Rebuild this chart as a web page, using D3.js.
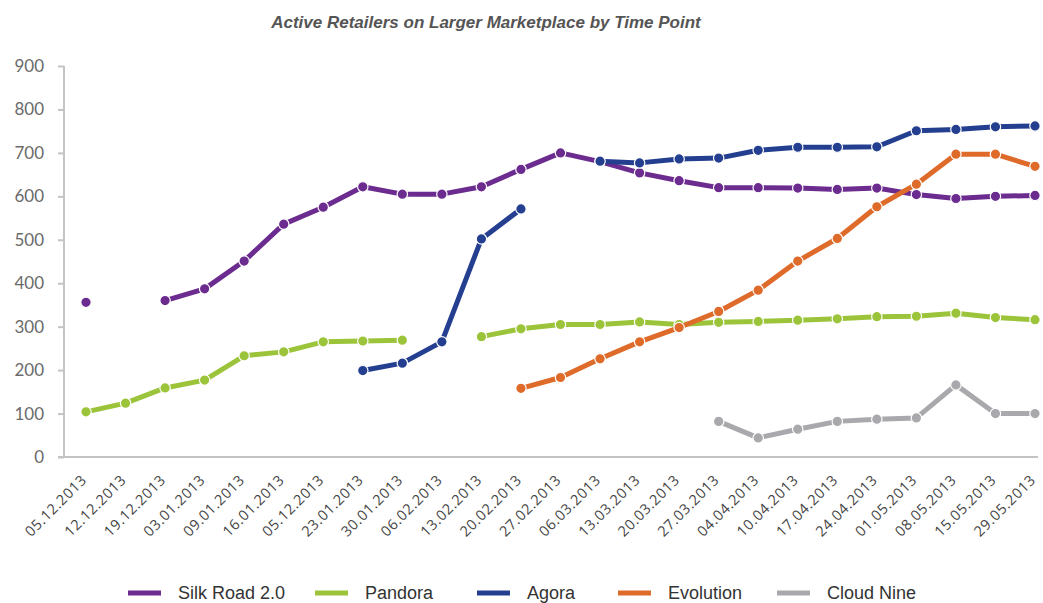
<!DOCTYPE html>
<html>
<head>
<meta charset="utf-8">
<script src="https://cdn.jsdelivr.net/npm/d3@7"></script>
<style>
  html, body { margin: 0; padding: 0; background: #ffffff; }
  svg { display: block; }
</style>
</head>
<body>
<svg id="chart" width="1043" height="603"></svg>
<script>
const title = "Active Retailers on Larger Marketplace by Time Point";
const dates = ["05.12.2013","12.12.2013","19.12.2013","03.01.2013","09.01.2013","16.01.2013","05.12.2013","23.01.2013","30.01.2013","06.02.2013","13.02.2013","20.02.2013","27.02.2013","06.03.2013","13.03.2013","20.03.2013","27.03.2013","04.04.2013","10.04.2013","17.04.2013","24.04.2013","01.05.2013","08.05.2013","15.05.2013","29.05.2013"];
const yTicks = [0,100,200,300,400,500,600,700,800,900];

const silkRoad  = [356,null,360,387,451,536,575,622,605,605,622,662,700,680,654,636,620,620,619,616,619,604,595,600,602];
const pandora   = [104,124,159,177,233,242,265,267,269,null,277,295,305,305,311,305,310,312,315,318,323,324,331,321,316];
const agora     = [null,null,null,null,null,null,null,199,216,265,502,571,null,681,677,686,688,706,713,713,714,751,754,760,762];
const evolution = [null,null,null,null,null,null,null,null,null,null,null,158,183,226,265,298,335,384,451,503,576,628,697,697,669];
const cloudNine = [null,null,null,null,null,null,null,null,null,null,null,null,null,null,null,null,82,44,64,82,87,90,166,100,100];

const seriesNames  = ["Silk Road 2.0","Pandora","Agora","Evolution","Cloud Nine"];
const seriesColors = ["#6b2b8f","#9cc43b","#243f90","#df6b2b","#a9a9ad"];
const seriesValues = [silkRoad, pandora, agora, evolution, cloudNine];

const svg = d3.select("#chart");

const x = d3.scalePoint().domain(d3.range(dates.length)).range([86, 1035]);
const y = d3.scaleLinear().domain([0, 900]).range([457, 66]);

// title
svg.append("text")
  .attr("x", 486).attr("y", 28)
  .attr("text-anchor", "middle")
  .attr("font-family", "'Liberation Sans Narrow', 'Liberation Sans', sans-serif")
  .attr("font-style", "italic").attr("font-weight", "bold")
  .attr("font-size", 17).attr("fill", "#555")
  .text(title);

// y axis
const yAxis = svg.append("g").attr("transform", "translate(64,0)")
  .call(d3.axisLeft(y).tickValues(yTicks).tickSize(6).tickPadding(14).tickFormat(d3.format("d")));
yAxis.select(".domain").attr("stroke", "#c4c4c4").attr("stroke-width", 2)
  .attr("d", `M0,${y(900)}V${y(0)}`);
yAxis.selectAll(".tick line").attr("stroke", "#c4c4c4").attr("stroke-width", 2);
yAxis.selectAll(".tick text")
  .attr("font-family", "Lato, sans-serif").attr("font-size", 17)
  .attr("fill", "#6a6a6a");

// x axis
const xAxis = svg.append("g").attr("transform", `translate(0,${y(0)})`)
  .call(d3.axisBottom(x).tickSize(0).tickFormat(i => dates[i]));
xAxis.select(".domain").attr("stroke", "#c4c4c4").attr("stroke-width", 2)
  .attr("d", "M58,0H1038");
xAxis.selectAll(".tick text")
  .attr("font-family", "'Open Sans', sans-serif").attr("font-size", 14.5)
  .attr("letter-spacing", 0.6)
  .attr("fill", "#444")
  .attr("text-anchor", "end")
  .attr("dy", 0)
  .attr("y", 0)
  .attr("transform", "translate(1,24) rotate(-45)");

// lines
const line = d3.line()
  .defined(d => d != null)
  .x((d, i) => x(i))
  .y(d => y(d));

seriesValues.forEach((vals, s) => {
  const g = svg.append("g");
  g.append("path")
    .attr("d", line(vals))
    .attr("fill", "none")
    .attr("stroke", seriesColors[s])
    .attr("stroke-width", 5)
    .attr("stroke-linejoin", "round");
  g.selectAll("circle")
    .data(vals.map((v, i) => ({v, i})).filter(d => d.v != null))
    .join("circle")
    .attr("cx", d => x(d.i))
    .attr("cy", d => y(d.v))
    .attr("r", 5.2)
    .attr("fill", seriesColors[s])
    .attr("stroke", "#ffffff")
    .attr("stroke-width", 1.2);
});

// legend
const legendX = [128, 315, 477, 618, 777];
const legend = svg.append("g");
seriesNames.forEach((name, s) => {
  legend.append("line")
    .attr("x1", legendX[s]).attr("x2", legendX[s] + 33)
    .attr("y1", 593).attr("y2", 593)
    .attr("stroke", seriesColors[s]).attr("stroke-width", 5);
  legend.append("text")
    .attr("x", legendX[s] + 50).attr("y", 599)
    .attr("font-family", "'Liberation Sans Narrow', 'Liberation Sans', sans-serif")
    .attr("font-size", 18).attr("fill", "#333")
    .text(name);
});
</script>
</body>
</html>
